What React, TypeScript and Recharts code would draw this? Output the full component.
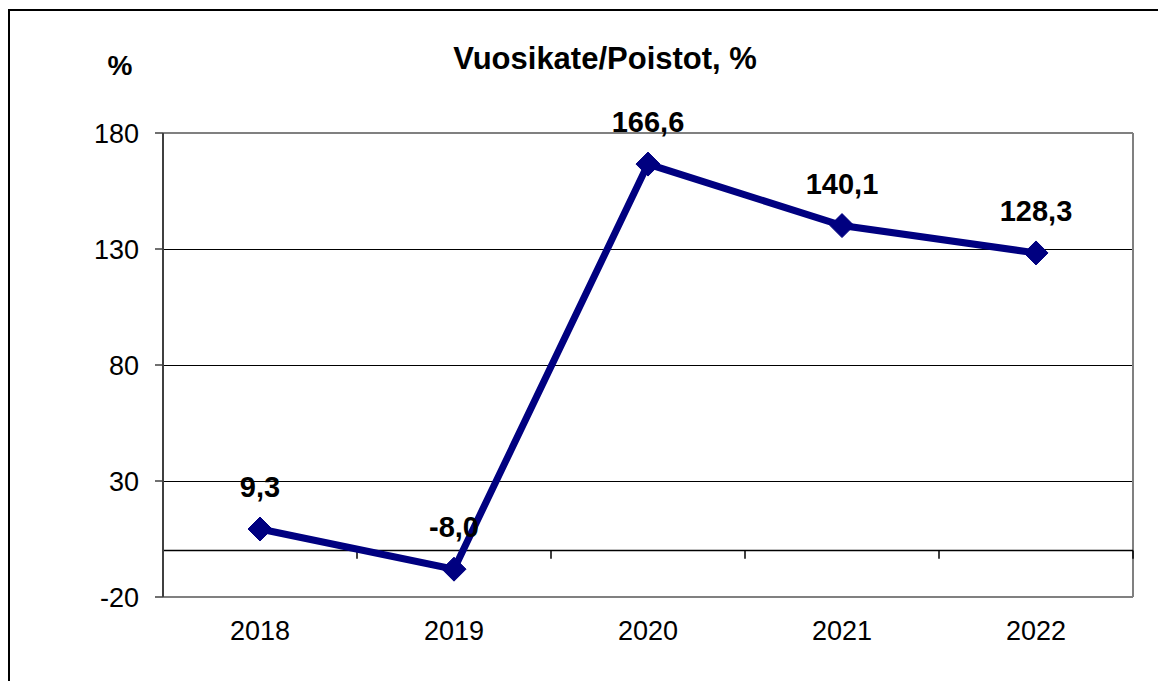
import React from "react";
import {
  LineChart,
  Line,
  XAxis,
  YAxis,
  CartesianGrid,
  ReferenceLine,
  LabelList,
} from "recharts";

const years = ["2018", "2019", "2020", "2021", "2022"];
const values = [9.3, -8.0, 166.6, 140.1, 128.3];
const yTicks = [-20, 30, 80, 130, 180];

const data = years.map((year, i) => ({ year, value: values[i] }));

const FONT = "'Liberation Sans', Arial, sans-serif";
const NAVY = "#000080";

const Diamond = (props: any) => {
  const { cx, cy } = props;
  if (cx == null || cy == null) return null;
  const r = 12;
  return (
    <polygon
      points={`${cx},${cy - r} ${cx + r},${cy} ${cx},${cy + r} ${cx - r},${cy}`}
      fill={NAVY}
      stroke={NAVY}
    />
  );
};

const ValueLabel = (props: any) => {
  const { x, y, value } = props;
  if (x == null || y == null) return null;
  return (
    <text
      x={x}
      y={y - 32}
      textAnchor="middle"
      fontFamily={FONT}
      fontWeight="bold"
      fontSize={29}
      fill="#000"
    >
      {Number(value).toFixed(1).replace(".", ",")}
    </text>
  );
};

export default function App() {
  const last = years[years.length - 1];
  return (
    <div
      style={{
        position: "relative",
        width: 1158,
        height: 673,
        borderTop: "2px solid #000",
        borderLeft: "2px solid #000",
        boxSizing: "border-box",
        marginTop: 1,
        fontFamily: FONT,
      }}
    >
      <div
        style={{
          position: "absolute",
          left: 595,
          top: 32,
          transform: "translateX(-50%)",
          whiteSpace: "nowrap",
          fontSize: 31,
          fontWeight: "bold",
          lineHeight: 1,
          color: "#000",
        }}
      >
        Vuosikate/Poistot, %
      </div>
      <div
        style={{
          position: "absolute",
          left: 110,
          top: 41,
          transform: "translateX(-50%)",
          fontSize: 28,
          fontWeight: "bold",
          lineHeight: 1,
          color: "#000",
        }}
      >
        %
      </div>
      <LineChart
        width={1156}
        height={670}
        data={data}
        margin={{ top: 122, right: 33, left: 0, bottom: 40 }}
      >
        <CartesianGrid
          vertical={false}
          horizontal
          stroke="#000"
          strokeWidth={1}
          shapeRendering="crispEdges"
        />
        <XAxis
          dataKey="year"
          scale="band"
          axisLine={false}
          tickLine={false}
          tickSize={0}
          tickMargin={24}
          height={44}
          tick={{ fontSize: 27, fill: "#000", fontFamily: FONT }}
        />
        <YAxis
          domain={[-20, 180]}
          ticks={yTicks}
          width={153}
          interval={0}
          axisLine={{ stroke: "#404040", strokeWidth: 2 }}
          tickLine={{ stroke: "#404040", strokeWidth: 1.5 }}
          tickSize={8}
          tickMargin={16}
          tick={{ fontSize: 27, fill: "#000", fontFamily: FONT }}
        />
        <ReferenceLine y={180} stroke="#808080" strokeWidth={2} />
        <ReferenceLine y={-20} stroke="#808080" strokeWidth={2} />
        <ReferenceLine x={last} position="end" stroke="#808080" strokeWidth={2} />
        <ReferenceLine y={0} stroke="#000" strokeWidth={1.5} />
        {years.slice(1).map((yr) => (
          <ReferenceLine
            key={"s" + yr}
            position="start"
            segment={[
              { x: yr, y: 0 },
              { x: yr, y: -3.5 },
            ]}
            stroke="#000"
            strokeWidth={1.5}
          />
        ))}
        <ReferenceLine
          position="end"
          segment={[
            { x: last, y: 0 },
            { x: last, y: -3.5 },
          ]}
          stroke="#000"
          strokeWidth={1.5}
        />
        <Line
          dataKey="value"
          stroke={NAVY}
          strokeWidth={7}
          dot={<Diamond />}
          activeDot={false}
          isAnimationActive={false}
        >
          <LabelList dataKey="value" content={<ValueLabel />} />
        </Line>
      </LineChart>
    </div>
  );
}
